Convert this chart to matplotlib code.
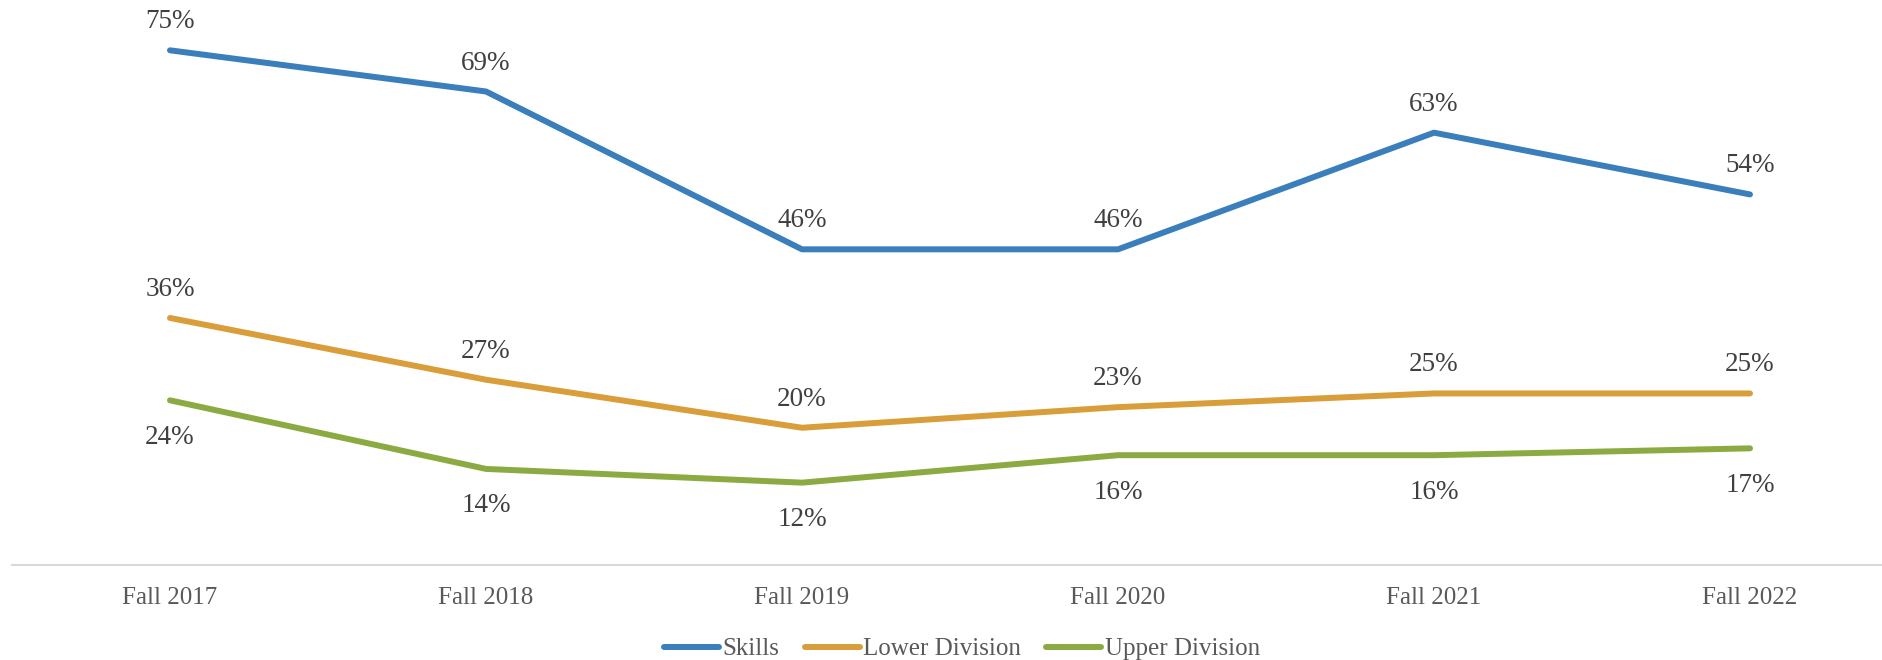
import numpy as np
import matplotlib
matplotlib.use("Agg")
import matplotlib.pyplot as plt

plt.rcParams['font.family'] = ['Liberation Serif', 'DejaVu Serif']

# data
terms = ["Fall 2017", "Fall 2018", "Fall 2019", "Fall 2020", "Fall 2021", "Fall 2022"]
skills = [0.75, 0.69, 0.46, 0.46, 0.63, 0.54]
lower_div = [0.36, 0.27, 0.20, 0.23, 0.25, 0.25]
upper_div = [0.24, 0.14, 0.12, 0.16, 0.16, 0.17]

series = [
    ("Skills", skills, "#3A7EBB", 20.5),
    ("Lower Division", lower_div, "#D99D3A", 20.5),
    ("Upper Division", upper_div, "#8BAB42", -26.5),
]

fig = plt.figure(figsize=(18.83, 6.60), dpi=100)
ax = fig.add_axes([12/1883, 95/660, 1896/1883, 549/660])

x = np.arange(len(terms))
for name, vals, col, off in series:
    ax.plot(x, vals, color=col, lw=4.3, solid_capstyle='round', solid_joinstyle='round', label=name)
    for xi, v in zip(x, vals):
        ax.annotate(f"{v*100:.0f}%", (xi, v), xytext=(0, off), textcoords='offset points',
                    ha='center', va='center', fontsize=19.5, color='#404040')

ax.set_xlim(-0.5, 5.5)
ax.set_ylim(0, 0.8)
ax.set_xticks(x)
ax.set_xticklabels(terms, fontsize=18, color='#595959')
ax.tick_params(axis='x', length=0, pad=16)
ax.set_yticks([])
for s in ['top', 'right', 'left']:
    ax.spines[s].set_visible(False)
ax.spines['bottom'].set_color('#D9D9D9')
ax.spines['bottom'].set_linewidth(1.5)

leg = fig.legend(loc='center', bbox_to_anchor=(962/1883, 1 - 649/660), ncol=3, frameon=False,
                 fontsize=18, handlelength=2.2, handletextpad=0.15, columnspacing=1.0)
for t in leg.get_texts():
    t.set_color('#595959')

fig.savefig("out.png", dpi=100)
